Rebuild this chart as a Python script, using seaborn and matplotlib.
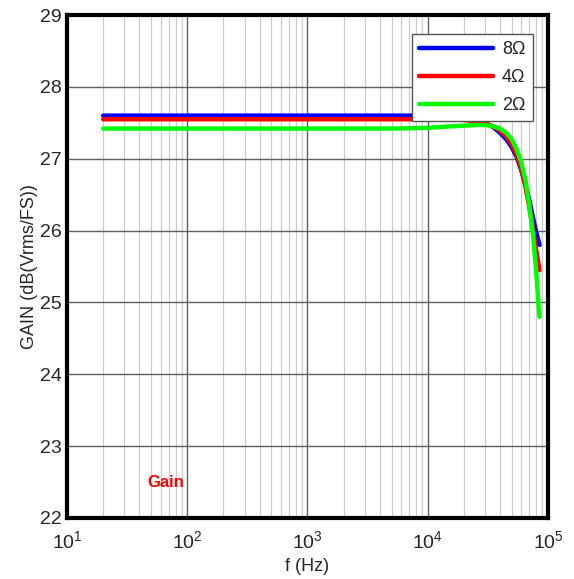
import matplotlib
matplotlib.use("Agg")
import matplotlib.pyplot as plt
import seaborn as sns
import numpy as np
import pandas as pd

freq = [20, 50, 100, 200, 500, 1000, 2000, 5000, 10000, 15000, 20000, 25000,
        30000, 35000, 40000, 45000, 50000, 55000, 60000, 65000, 70000, 75000, 80000, 85000]
gain_8 = [27.60, 27.60, 27.60, 27.60, 27.60, 27.60, 27.60, 27.60, 27.60, 27.59, 27.58, 27.55,
          27.50, 27.44, 27.36, 27.27, 27.16, 27.02, 26.84, 26.64, 26.42, 26.18, 25.97, 25.80]
gain_4 = [27.55, 27.55, 27.55, 27.55, 27.55, 27.55, 27.55, 27.55, 27.55, 27.55, 27.54, 27.52,
          27.49, 27.45, 27.39, 27.31, 27.20, 27.05, 26.86, 26.61, 26.32, 26.02, 25.72, 25.45]
gain_2 = [27.42, 27.42, 27.42, 27.42, 27.42, 27.42, 27.42, 27.42, 27.43, 27.45, 27.46, 27.47,
          27.47, 27.45, 27.42, 27.36, 27.27, 27.13, 26.95, 26.70, 26.35, 25.95, 25.40, 24.80]
series_names = ["8Ω", "4Ω", "2Ω"]
colors = ["#0000ff", "#ff0000", "#00ff00"]

df = pd.concat([
    pd.DataFrame({"f": freq, "gain": g, "load": n})
    for g, n in zip([gain_8, gain_4, gain_2], series_names)
])

sns.set_style("white")
plt.rcParams["font.family"] = ["Liberation Sans", "DejaVu Sans"]

fig = plt.figure(figsize=(5.74, 5.79), dpi=100)
ax = fig.add_axes([0.1167, 0.1054, 0.838, 0.8686])

sns.lineplot(data=df, x="f", y="gain", hue="load", palette=colors,
             hue_order=series_names, linewidth=3.2, ax=ax, legend=True)

ax.set_xscale("log")
ax.set_xlim(10, 1e5)
ax.set_ylim(22, 29)
ax.set_yticks(range(22, 30))
ax.grid(True, which="major", color="#606060", linewidth=1.0)
ax.grid(True, which="minor", axis="x", color="#cccccc", linewidth=0.9)
ax.set_axisbelow(True)
ax.tick_params(which="both", direction="in", labelsize=14, length=4, color="#333333")
ax.tick_params(axis="x", pad=9)
ax.tick_params(axis="y", pad=4)
ax.tick_params(which="minor", length=0)
for s in ax.spines.values():
    s.set_linewidth(3)
    s.set_color("black")
ax.set_xlabel("f (Hz)", fontsize=13, labelpad=4)
ax.set_ylabel("GAIN (dB(Vrms/FS))", fontsize=13, labelpad=1)
ax.text(66, 22.49, "Gain", color="red", fontsize=12, fontweight="bold", ha="center", va="center")

leg = ax.legend(loc="upper right", bbox_to_anchor=(0.968, 0.962), borderaxespad=0,
                fontsize=13, frameon=True, fancybox=False, edgecolor="#555555",
                framealpha=1, handlelength=4.1, borderpad=0.4, labelspacing=0.6,
                handletextpad=0.5)
leg.get_frame().set_linewidth(1)
for line in leg.get_lines():
    line.set_linewidth(3.2)

fig.savefig("out.png", dpi=100)
